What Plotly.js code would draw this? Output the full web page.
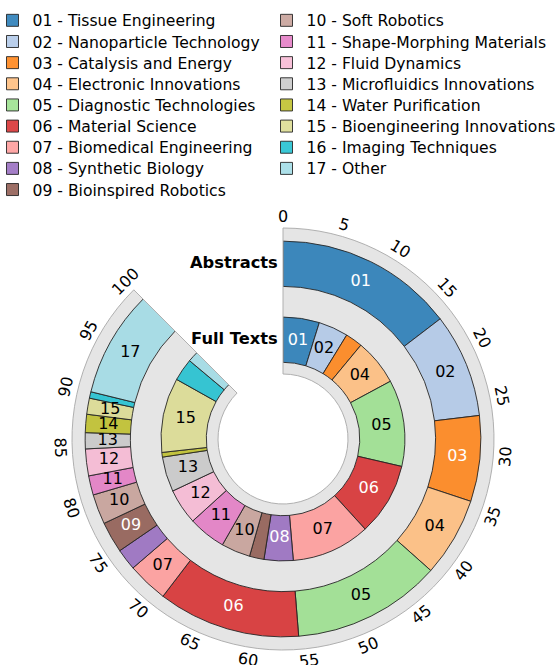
<!DOCTYPE html>
<html>
<head>
<meta charset="utf-8">
<script src="https://cdn.plot.ly/plotly-3.0.1.min.js"></script>
<style>html,body{margin:0;padding:0;background:#fff}#chart{width:555px;height:665px}</style>
</head>
<body>
<div id="chart"></div>
<script>
// ---------------- data ----------------
const codes = ['01','02','03','04','05','06','07','08','09','10','11','12','13','14','15','16','17'];
const categories = ['Tissue Engineering','Nanoparticle Technology','Catalysis and Energy','Electronic Innovations',
  'Diagnostic Technologies','Material Science','Biomedical Engineering','Synthetic Biology','Bioinspired Robotics',
  'Soft Robotics','Shape-Morphing Materials','Fluid Dynamics','Microfluidics Innovations','Water Purification',
  'Bioengineering Innovations','Imaging Techniques','Other'];
const abstractsPct = [16.7, 9.7, 8.0, 7.4, 13.9, 13.3, 3.8, 2.0, 2.9, 2.8, 1.8, 2.5, 1.5, 1.7, 1.5, 0.6, 9.9];
const fullTextsPct = [5.5, 4.5, 2.6, 7.0, 13.1, 11.0, 11.9, 4.4, 2.2, 4.4, 5.7, 5.4, 5.3, 0.7, 11.3, 3.4, 1.6];
const abstractsLabelled = [1,1,1,1,1,1,1,0,1,1,1,1,1,1,1,0,1];
const fullTextsLabelled = [1,1,0,1,1,1,1,1,0,1,1,1,1,0,1,0,0];
const ringNames = ['Abstracts', 'Full Texts'];
const angleTickLabels = [0,5,10,15,20,25,30,35,40,45,50,55,60,65,70,75,80,85,90,95,100];

// ---------------- style ----------------
const colors = ['#1f77b4','#aec7e8','#ff7f0e','#ffbb78','#98df8a','#d62728','#ff9896','#9467bd','#8c564b',
  '#c49c94','#e377c2','#f7b6d2','#c7c7c7','#bcbd22','#dbdb8d','#17becf','#9edae5'];
const darkCodes = ['01','03','06','08','09'];
const ALPHA = 0.85;
function rgba(hex, a){ const n=parseInt(hex.slice(1),16); return `rgba(${n>>16},${(n>>8)&255},${n&255},${a})`; }
const FONT = 'DejaVu Sans, Liberation Sans, sans-serif';
const W = 555, H = 665;
const CX = 283, CY = 439, R = 211, HOLE = 65;   // pixel geometry of the polar subplot
const K = 315 / 100;                             // degrees of arc per percentage point
const GEOM = {outerBase: 6.0, innerBase: 0.8, height: 3.1, rmax: 10};
const LABEL_R = 223;
const LEG = {rows: 9, top: 20.7, step: 21.15, col1x: -7.5, col2x: 266.5, font: 15.6};

function cum(arr){ let s = 0; return arr.map(v => { const c = s; s += v; return c; }); }
const cumA = cum(abstractsPct), cumF = cum(fullTextsPct);

const legendKey = i => (i === 0 ? 'legend' : 'legend' + (i + 1));

const traces = codes.map((c, i) => ({
  type: 'barpolar',
  name: c + ' - ' + categories[i],
  r: [GEOM.height, GEOM.height],
  base: [GEOM.outerBase, GEOM.innerBase],
  theta: [(cumA[i] + abstractsPct[i] / 2) * K, (cumF[i] + fullTextsPct[i] / 2) * K],
  width: [abstractsPct[i] * K, fullTextsPct[i] * K],
  marker: {color: rgba(colors[i], ALPHA), line: {color: '#262626', width: 0.9}},
  legend: legendKey(i),
  hoverinfo: 'skip'
}));

// bar labels
const lr = [], lt = [], ltx = [], lc = [];
codes.forEach((c, i) => {
  const col = darkCodes.includes(c) ? '#ffffff' : '#000000';
  if (abstractsLabelled[i]) { lr.push(GEOM.outerBase + GEOM.height / 2); lt.push((cumA[i] + abstractsPct[i] / 2) * K); ltx.push(c); lc.push(col); }
  if (fullTextsLabelled[i]) { lr.push(GEOM.innerBase + GEOM.height / 2); lt.push((cumF[i] + fullTextsPct[i] / 2) * K); ltx.push(c); lc.push(col); }
});
traces.push({
  type: 'scatterpolar', mode: 'text', r: lr, theta: lt, text: ltx,
  textfont: {family: FONT, size: 16, color: lc}, showlegend: false, hoverinfo: 'skip', cliponaxis: false
});
// ring names
traces.push({
  type: 'scatterpolar', mode: 'text',
  r: [GEOM.outerBase + GEOM.height / 2, GEOM.innerBase + GEOM.height / 2], theta: [0, 0],
  text: ringNames.map(t => '<b>' + t + '</b>\u00a0'), textposition: 'middle left',
  textfont: {family: FONT, size: 16.3, color: '#000'}, showlegend: false, hoverinfo: 'skip', cliponaxis: false
});

// rotated angular tick labels
const annotations = angleTickLabels.map(v => {
  const a = v * K, rad = a * Math.PI / 180;
  const rot = (a > 90 && a < 270) ? a - 180 : (a >= 270 ? a - 360 : a);
  return {
    xref: 'paper', yref: 'paper',
    x: (CX + LABEL_R * Math.sin(rad)) / W, y: (H - CY + LABEL_R * Math.cos(rad)) / H,
    text: String(v), textangle: rot, showarrow: false, xanchor: 'center', yanchor: 'middle',
    font: {family: FONT, size: 16, color: '#000'}
  };
});

const minorTicks = Array.from({length: 101}, (_, i) => i * K);

const layout = {
  width: W, height: H,
  margin: {l: 0, r: 0, t: 0, b: 0, autoexpand: false},
  paper_bgcolor: '#ffffff',
  font: {family: FONT, size: 15, color: '#000'},
  showlegend: true,
  polar: {
    domain: {x: [(CX - R) / W, (CX + R) / W], y: [(H - CY - R) / H, (H - CY + R) / H]},
    sector: [135, 450],
    hole: HOLE / R,
    bgcolor: '#e5e5e5',
    radialaxis: {visible: false, range: [0, GEOM.rmax]},
    angularaxis: {
      type: 'linear', rotation: 90, direction: 'clockwise', thetaunit: 'degrees',
      tickmode: 'array', tickvals: minorTicks, showticklabels: false,
      ticks: 'outside', ticklen: 3, tickwidth: 0.8, tickcolor: '#8c8c8c',
      showgrid: false, showline: true, linecolor: '#b0b0b0', linewidth: 1
    }
  },
  annotations: annotations
};
// one single-entry legend per category, laid out in two columns
codes.forEach((c, i) => {
  const col = Math.floor(i / LEG.rows), row = i % LEG.rows;
  layout[legendKey(i)] = {
    x: (col === 0 ? LEG.col1x : LEG.col2x) / W,
    y: (H - (LEG.top + row * LEG.step)) / H,
    xanchor: 'left', yanchor: 'middle', bgcolor: 'rgba(0,0,0,0)', borderwidth: 0,
    font: {family: FONT, size: LEG.font, color: '#000'}, orientation: 'v'
  };
});

Plotly.newPlot('chart', traces, layout, {staticPlot: true, displayModeBar: false});
</script>
</body>
</html>
